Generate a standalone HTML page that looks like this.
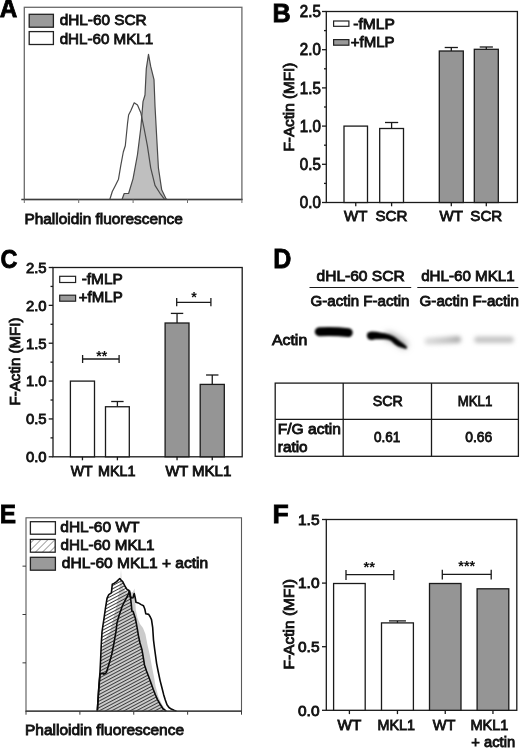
<!DOCTYPE html>
<html><head><meta charset="utf-8"><style>
html,body{margin:0;padding:0;background:#fff;}
svg{display:block;font-family:"Liberation Sans", Arial, sans-serif;}
</style></head><body>
<svg width="520" height="749" viewBox="0 0 520 749">
<rect x="0" y="0" width="520" height="749" fill="#fff"/>
<text x="-0.21" y="17.3" font-size="26.02" text-anchor="start" font-weight="bold" fill="#000" stroke="#000" stroke-width="0.8" textLength="17.55" lengthAdjust="spacingAndGlyphs" >A</text>
<polygon points="122,199.5 124.2,193.5 128.6,193.5 133,178.8 137.5,154.5 140.8,128 143,101.7 145,95 146.3,68.6 148.5,54.3 150.7,66.4 154,79.7 155,106 156.8,139 158.4,167.8 161.7,189.8 166,198.7 167,199.5" fill="#bfbfbf" stroke="#4a4a4a" stroke-width="1.2" stroke-linejoin="round" />
<polyline points="109.8,199.5 112.3,191.5 115.4,185.4 118.5,179.2 120.8,165.4 123.3,152 125.3,145.8 127.5,123.7 128.6,115 130.9,110.5 134.2,102.8 137.5,105 140.8,112.7 144,128 147.4,145.8 150.7,167.8 155,185.4 160.6,194.2 164,198.7 165,199.5" fill="none" stroke="#4a4a4a" stroke-width="1.2" stroke-linejoin="round" />
<rect x="24.3" y="7.3" width="217.6" height="192.2" fill="none" stroke="#6a6a6a" stroke-width="1.3" />
<line x1="21.3" y1="199.5" x2="242.5" y2="199.5" stroke="#3c3c3c" stroke-width="1.4"/>
<line x1="24.3" y1="199.5" x2="24.3" y2="203.0" stroke="#6e6e6e" stroke-width="1.0"/>
<line x1="78.7" y1="199.5" x2="78.7" y2="203.0" stroke="#6e6e6e" stroke-width="1.0"/>
<line x1="133.1" y1="199.5" x2="133.1" y2="203.0" stroke="#6e6e6e" stroke-width="1.0"/>
<line x1="187.5" y1="199.5" x2="187.5" y2="203.0" stroke="#6e6e6e" stroke-width="1.0"/>
<line x1="241.9" y1="199.5" x2="241.9" y2="203.0" stroke="#6e6e6e" stroke-width="1.0"/>
<rect x="29.2" y="14.3" width="24.2" height="12.899999999999999" fill="#9a9a9a" stroke="#222" stroke-width="1.3" />
<rect x="29.2" y="31.6" width="24.2" height="12.899999999999999" fill="#fff" stroke="#222" stroke-width="1.3" />
<text x="59.7" y="24.6" font-size="14.8" text-anchor="start" font-weight="normal" fill="#111" stroke="#111" stroke-width="0.85" textLength="87" lengthAdjust="spacingAndGlyphs" >dHL-60 SCR</text>
<text x="59.7" y="43.8" font-size="14.8" text-anchor="start" font-weight="normal" fill="#111" stroke="#111" stroke-width="0.85" textLength="93.5" lengthAdjust="spacingAndGlyphs" >dHL-60 MKL1</text>
<text x="24.4" y="223.8" font-size="14.8" text-anchor="start" font-weight="normal" fill="#111" stroke="#111" stroke-width="0.85" textLength="158.5" lengthAdjust="spacingAndGlyphs" >Phalloidin fluorescence</text>
<text x="272.51" y="21.5" font-size="25.58" text-anchor="start" font-weight="bold" fill="#000" stroke="#000" stroke-width="0.8" textLength="18.24" lengthAdjust="spacingAndGlyphs" >B</text>
<rect x="326.3" y="11.5" width="191.09999999999997" height="191.0" fill="none" stroke="#1a1a1a" stroke-width="1.3" />
<line x1="322.0" y1="202.5" x2="326.3" y2="202.5" stroke="#1a1a1a" stroke-width="1.3"/>
<text x="320.8" y="208.1" font-size="16" text-anchor="end" font-weight="normal" fill="#111" stroke="#111" stroke-width="0.85" textLength="21" lengthAdjust="spacingAndGlyphs" >0.0</text>
<line x1="322.0" y1="164.3" x2="326.3" y2="164.3" stroke="#1a1a1a" stroke-width="1.3"/>
<text x="320.8" y="169.9" font-size="16" text-anchor="end" font-weight="normal" fill="#111" stroke="#111" stroke-width="0.85" textLength="21" lengthAdjust="spacingAndGlyphs" >0.5</text>
<line x1="322.0" y1="126.1" x2="326.3" y2="126.1" stroke="#1a1a1a" stroke-width="1.3"/>
<text x="320.8" y="131.7" font-size="16" text-anchor="end" font-weight="normal" fill="#111" stroke="#111" stroke-width="0.85" textLength="21" lengthAdjust="spacingAndGlyphs" >1.0</text>
<line x1="322.0" y1="87.89999999999999" x2="326.3" y2="87.89999999999999" stroke="#1a1a1a" stroke-width="1.3"/>
<text x="320.8" y="93.49999999999999" font-size="16" text-anchor="end" font-weight="normal" fill="#111" stroke="#111" stroke-width="0.85" textLength="21" lengthAdjust="spacingAndGlyphs" >1.5</text>
<line x1="322.0" y1="49.69999999999999" x2="326.3" y2="49.69999999999999" stroke="#1a1a1a" stroke-width="1.3"/>
<text x="320.8" y="55.29999999999999" font-size="16" text-anchor="end" font-weight="normal" fill="#111" stroke="#111" stroke-width="0.85" textLength="21" lengthAdjust="spacingAndGlyphs" >2.0</text>
<line x1="322.0" y1="11.5" x2="326.3" y2="11.5" stroke="#1a1a1a" stroke-width="1.3"/>
<text x="320.8" y="17.1" font-size="16" text-anchor="end" font-weight="normal" fill="#111" stroke="#111" stroke-width="0.85" textLength="21" lengthAdjust="spacingAndGlyphs" >2.5</text>
<line x1="324.0" y1="183.4" x2="326.3" y2="183.4" stroke="#1a1a1a" stroke-width="1.3"/>
<line x1="324.0" y1="145.2" x2="326.3" y2="145.2" stroke="#1a1a1a" stroke-width="1.3"/>
<line x1="324.0" y1="107.0" x2="326.3" y2="107.0" stroke="#1a1a1a" stroke-width="1.3"/>
<line x1="324.0" y1="68.79999999999998" x2="326.3" y2="68.79999999999998" stroke="#1a1a1a" stroke-width="1.3"/>
<line x1="324.0" y1="30.599999999999994" x2="326.3" y2="30.599999999999994" stroke="#1a1a1a" stroke-width="1.3"/>
<text transform="translate(294.4,107.1) rotate(-90)" font-size="14.8" text-anchor="middle" fill="#111" stroke="#111" stroke-width="0.85" textLength="88.8" lengthAdjust="spacingAndGlyphs">F-Actin (MFI)</text>
<rect x="344" y="126.1" width="23.5" height="76.4" fill="#fff" stroke="#1a1a1a" stroke-width="1.3" />
<line x1="355.75" y1="202.5" x2="355.75" y2="206.3" stroke="#1a1a1a" stroke-width="1.3"/>
<line x1="391.6" y1="122.5" x2="391.6" y2="128.5" stroke="#1a1a1a" stroke-width="1.3"/>
<line x1="385.0" y1="122.5" x2="398.20000000000005" y2="122.5" stroke="#1a1a1a" stroke-width="1.3"/>
<rect x="379.7" y="128.5" width="23.80000000000001" height="74.0" fill="#fff" stroke="#1a1a1a" stroke-width="1.3" />
<line x1="391.6" y1="202.5" x2="391.6" y2="206.3" stroke="#1a1a1a" stroke-width="1.3"/>
<line x1="451.3" y1="47.5" x2="451.3" y2="51" stroke="#1a1a1a" stroke-width="1.3"/>
<line x1="444.7" y1="47.5" x2="457.90000000000003" y2="47.5" stroke="#1a1a1a" stroke-width="1.3"/>
<rect x="439.3" y="51" width="24.0" height="151.5" fill="#959595" stroke="#1a1a1a" stroke-width="1.3" />
<line x1="451.3" y1="202.5" x2="451.3" y2="206.3" stroke="#1a1a1a" stroke-width="1.3"/>
<line x1="486.3" y1="47" x2="486.3" y2="49.3" stroke="#1a1a1a" stroke-width="1.3"/>
<line x1="479.7" y1="47" x2="492.90000000000003" y2="47" stroke="#1a1a1a" stroke-width="1.3"/>
<rect x="474.3" y="49.3" width="24.0" height="153.2" fill="#959595" stroke="#1a1a1a" stroke-width="1.3" />
<line x1="486.3" y1="202.5" x2="486.3" y2="206.3" stroke="#1a1a1a" stroke-width="1.3"/>
<text x="355.75" y="220.7" font-size="15.5" text-anchor="middle" font-weight="normal" fill="#111" stroke="#111" stroke-width="0.85" textLength="23.4" lengthAdjust="spacingAndGlyphs" >WT</text>
<text x="391.5" y="220.7" font-size="15.5" text-anchor="middle" font-weight="normal" fill="#111" stroke="#111" stroke-width="0.85" textLength="32" lengthAdjust="spacingAndGlyphs" >SCR</text>
<text x="451.3" y="220.7" font-size="15.5" text-anchor="middle" font-weight="normal" fill="#111" stroke="#111" stroke-width="0.85" textLength="23.4" lengthAdjust="spacingAndGlyphs" >WT</text>
<text x="486.3" y="220.7" font-size="15.5" text-anchor="middle" font-weight="normal" fill="#111" stroke="#111" stroke-width="0.85" textLength="32" lengthAdjust="spacingAndGlyphs" >SCR</text>
<rect x="333.6" y="21.0" width="15.299999999999955" height="5.300000000000001" fill="#fff" stroke="#222" stroke-width="1.2" />
<rect x="333.6" y="39.6" width="15.299999999999955" height="5.600000000000001" fill="#9a9a9a" stroke="#222" stroke-width="1.2" />
<text x="353.3" y="28.7" font-size="14.8" text-anchor="start" font-weight="normal" fill="#111" stroke="#111" stroke-width="0.85" textLength="41.5" lengthAdjust="spacingAndGlyphs" >-fMLP</text>
<text x="350.8" y="46.5" font-size="14.8" text-anchor="start" font-weight="normal" fill="#111" stroke="#111" stroke-width="0.85" textLength="43.8" lengthAdjust="spacingAndGlyphs" >+fMLP</text>
<text x="0.59" y="267.65" font-size="25.85" text-anchor="start" font-weight="bold" fill="#000" stroke="#000" stroke-width="0.8" textLength="16.95" lengthAdjust="spacingAndGlyphs" >C</text>
<rect x="53" y="267.5" width="189.2" height="189.3" fill="none" stroke="#1a1a1a" stroke-width="1.3" />
<line x1="48.7" y1="456.8" x2="53" y2="456.8" stroke="#1a1a1a" stroke-width="1.3"/>
<text x="46.6" y="462.1" font-size="14.8" text-anchor="end" font-weight="normal" fill="#111" stroke="#111" stroke-width="0.85" textLength="20.7" lengthAdjust="spacingAndGlyphs" >0.0</text>
<line x1="48.7" y1="418.94" x2="53" y2="418.94" stroke="#1a1a1a" stroke-width="1.3"/>
<text x="46.6" y="424.24" font-size="14.8" text-anchor="end" font-weight="normal" fill="#111" stroke="#111" stroke-width="0.85" textLength="20.7" lengthAdjust="spacingAndGlyphs" >0.5</text>
<line x1="48.7" y1="381.08000000000004" x2="53" y2="381.08000000000004" stroke="#1a1a1a" stroke-width="1.3"/>
<text x="46.6" y="386.38000000000005" font-size="14.8" text-anchor="end" font-weight="normal" fill="#111" stroke="#111" stroke-width="0.85" textLength="20.7" lengthAdjust="spacingAndGlyphs" >1.0</text>
<line x1="48.7" y1="343.22" x2="53" y2="343.22" stroke="#1a1a1a" stroke-width="1.3"/>
<text x="46.6" y="348.52000000000004" font-size="14.8" text-anchor="end" font-weight="normal" fill="#111" stroke="#111" stroke-width="0.85" textLength="20.7" lengthAdjust="spacingAndGlyphs" >1.5</text>
<line x1="48.7" y1="305.36" x2="53" y2="305.36" stroke="#1a1a1a" stroke-width="1.3"/>
<text x="46.6" y="310.66" font-size="14.8" text-anchor="end" font-weight="normal" fill="#111" stroke="#111" stroke-width="0.85" textLength="20.7" lengthAdjust="spacingAndGlyphs" >2.0</text>
<line x1="48.7" y1="267.5" x2="53" y2="267.5" stroke="#1a1a1a" stroke-width="1.3"/>
<text x="46.6" y="272.8" font-size="14.8" text-anchor="end" font-weight="normal" fill="#111" stroke="#111" stroke-width="0.85" textLength="20.7" lengthAdjust="spacingAndGlyphs" >2.5</text>
<line x1="50.5" y1="437.87" x2="53" y2="437.87" stroke="#1a1a1a" stroke-width="1.3"/>
<line x1="50.5" y1="400.01" x2="53" y2="400.01" stroke="#1a1a1a" stroke-width="1.3"/>
<line x1="50.5" y1="362.15" x2="53" y2="362.15" stroke="#1a1a1a" stroke-width="1.3"/>
<line x1="50.5" y1="324.29" x2="53" y2="324.29" stroke="#1a1a1a" stroke-width="1.3"/>
<line x1="50.5" y1="286.43" x2="53" y2="286.43" stroke="#1a1a1a" stroke-width="1.3"/>
<text transform="translate(20.4,361.5) rotate(-90)" font-size="14.8" text-anchor="middle" fill="#111" stroke="#111" stroke-width="0.85" textLength="87.8" lengthAdjust="spacingAndGlyphs">F-Actin (MFI)</text>
<rect x="70.4" y="381.1" width="24.099999999999994" height="75.69999999999999" fill="#fff" stroke="#1a1a1a" stroke-width="1.3" />
<line x1="82.45" y1="456.8" x2="82.45" y2="460.3" stroke="#1a1a1a" stroke-width="1.3"/>
<line x1="117.4" y1="401.5" x2="117.4" y2="406.75" stroke="#1a1a1a" stroke-width="1.3"/>
<line x1="111.2" y1="401.5" x2="123.60000000000001" y2="401.5" stroke="#1a1a1a" stroke-width="1.3"/>
<rect x="105.5" y="406.75" width="23.80000000000001" height="50.05000000000001" fill="#fff" stroke="#1a1a1a" stroke-width="1.3" />
<line x1="117.4" y1="456.8" x2="117.4" y2="460.3" stroke="#1a1a1a" stroke-width="1.3"/>
<line x1="177.05" y1="313.4" x2="177.05" y2="323" stroke="#1a1a1a" stroke-width="1.3"/>
<line x1="170.85000000000002" y1="313.4" x2="183.25" y2="313.4" stroke="#1a1a1a" stroke-width="1.3"/>
<rect x="165.1" y="323" width="23.900000000000006" height="133.8" fill="#959595" stroke="#1a1a1a" stroke-width="1.3" />
<line x1="177.05" y1="456.8" x2="177.05" y2="460.3" stroke="#1a1a1a" stroke-width="1.3"/>
<line x1="212.25" y1="375" x2="212.25" y2="384.4" stroke="#1a1a1a" stroke-width="1.3"/>
<line x1="206.05" y1="375" x2="218.45" y2="375" stroke="#1a1a1a" stroke-width="1.3"/>
<rect x="200.2" y="384.4" width="24.100000000000023" height="72.40000000000003" fill="#959595" stroke="#1a1a1a" stroke-width="1.3" />
<line x1="212.25" y1="456.8" x2="212.25" y2="460.3" stroke="#1a1a1a" stroke-width="1.3"/>
<line x1="82.6" y1="359" x2="119.1" y2="359" stroke="#1a1a1a" stroke-width="1.3"/>
<line x1="82.6" y1="355" x2="82.6" y2="363" stroke="#1a1a1a" stroke-width="1.3"/>
<line x1="119.1" y1="355" x2="119.1" y2="363" stroke="#1a1a1a" stroke-width="1.3"/>
<text x="101.7" y="360.5" font-size="14" text-anchor="middle" font-weight="bold" fill="#111" >**</text>
<line x1="176.7" y1="302.3" x2="210.9" y2="302.3" stroke="#1a1a1a" stroke-width="1.3"/>
<line x1="176.7" y1="297.9" x2="176.7" y2="306.2" stroke="#1a1a1a" stroke-width="1.3"/>
<line x1="210.9" y1="297.9" x2="210.9" y2="306.2" stroke="#1a1a1a" stroke-width="1.3"/>
<text x="194.1" y="302.2" font-size="14.2" text-anchor="middle" font-weight="bold" fill="#111" >*</text>
<text x="70.7" y="475.6" font-size="14.5" text-anchor="start" font-weight="normal" fill="#111" stroke="#111" stroke-width="0.85" textLength="21.8" lengthAdjust="spacingAndGlyphs" >WT</text>
<text x="98" y="475.6" font-size="14.5" text-anchor="start" font-weight="normal" fill="#111" stroke="#111" stroke-width="0.85" textLength="37.6" lengthAdjust="spacingAndGlyphs" >MKL1</text>
<text x="165.4" y="475.6" font-size="14.5" text-anchor="start" font-weight="normal" fill="#111" stroke="#111" stroke-width="0.85" textLength="22.8" lengthAdjust="spacingAndGlyphs" >WT</text>
<text x="192" y="475.6" font-size="14.5" text-anchor="start" font-weight="normal" fill="#111" stroke="#111" stroke-width="0.85" textLength="39.4" lengthAdjust="spacingAndGlyphs" >MKL1</text>
<rect x="59.7" y="276.3" width="15.899999999999991" height="6.199999999999989" fill="#fff" stroke="#222" stroke-width="1.2" />
<rect x="59.7" y="295.2" width="15.899999999999991" height="6.0" fill="#9a9a9a" stroke="#222" stroke-width="1.2" />
<text x="81.7" y="284" font-size="14.8" text-anchor="start" font-weight="normal" fill="#111" stroke="#111" stroke-width="0.85" textLength="41" lengthAdjust="spacingAndGlyphs" >-fMLP</text>
<text x="78.8" y="302" font-size="14.8" text-anchor="start" font-weight="normal" fill="#111" stroke="#111" stroke-width="0.85" textLength="43.9" lengthAdjust="spacingAndGlyphs" >+fMLP</text>
<text x="273.32" y="267.7" font-size="26.89" text-anchor="start" font-weight="bold" fill="#000" stroke="#000" stroke-width="0.8" textLength="18.13" lengthAdjust="spacingAndGlyphs" >D</text>
<text x="316.5" y="281.2" font-size="14.8" text-anchor="start" font-weight="normal" fill="#111" stroke="#111" stroke-width="0.85" textLength="88.2" lengthAdjust="spacingAndGlyphs" >dHL-60 SCR</text>
<line x1="309.5" y1="287.4" x2="411.2" y2="287.4" stroke="#1a1a1a" stroke-width="1.05"/>
<text x="421.2" y="281.2" font-size="14.8" text-anchor="start" font-weight="normal" fill="#111" stroke="#111" stroke-width="0.85" textLength="93.5" lengthAdjust="spacingAndGlyphs" >dHL-60 MKL1</text>
<line x1="417.3" y1="287.4" x2="518.3" y2="287.4" stroke="#1a1a1a" stroke-width="1.05"/>
<text x="310.6" y="305.5" font-size="14.8" text-anchor="start" font-weight="normal" fill="#111" stroke="#111" stroke-width="0.85" textLength="98.8" lengthAdjust="spacingAndGlyphs" >G-actin F-actin</text>
<text x="419.6" y="305.5" font-size="14.8" text-anchor="start" font-weight="normal" fill="#111" stroke="#111" stroke-width="0.85" textLength="99.3" lengthAdjust="spacingAndGlyphs" >G-actin F-actin</text>
<text x="272.0" y="345.1" font-size="14.5" text-anchor="start" font-weight="normal" fill="#111" stroke="#111" stroke-width="0.85" textLength="35.2" lengthAdjust="spacingAndGlyphs" >Actin</text>
<defs><filter id="bl1" filterUnits="userSpaceOnUse" x="300" y="310" width="220" height="60"><feGaussianBlur stdDeviation="0.9"/></filter><filter id="bl2" filterUnits="userSpaceOnUse" x="300" y="310" width="220" height="60"><feGaussianBlur stdDeviation="2.2"/></filter><filter id="bl3" filterUnits="userSpaceOnUse" x="300" y="310" width="220" height="60"><feGaussianBlur stdDeviation="3"/></filter><linearGradient id="g3" gradientUnits="userSpaceOnUse" x1="425" y1="0" x2="461" y2="0"><stop offset="0" stop-color="#dedede"/><stop offset="0.6" stop-color="#c4c4c4"/><stop offset="1" stop-color="#a8a8a8"/></linearGradient></defs>
<path d="M319.3,331.7 C328,331.2 340,331.6 348.2,332.6" stroke="#000" stroke-width="9.0" stroke-linecap="round" fill="none" filter="url(#bl1)"/>
<path d="M388,336 C394,337 399,341 404,345" stroke="#a0a0a0" stroke-width="7" stroke-linecap="round" fill="none" filter="url(#bl3)"/>
<polygon points="368.25,333.2 371.6,332.2 376.4,332.5 381.2,333.5 386,334.4 389.9,335.6 392.8,337 395.7,339 399.5,341.8 403.3,344.7 406.2,347.1 405.8,348.1 402.4,347.1 398.5,345.7 394.7,343.3 391.8,340.4 388.9,339 385.1,338.5 380.3,338.3 375.5,338.5 371.6,339.2 368.7,338.5 367.6,336" fill="#000" stroke="#000" stroke-width="1.6" stroke-linejoin="round" filter="url(#bl1)"/>
<path d="M428,341.3 C438,340.8 448,340.2 457.5,339.5" stroke="url(#g3)" stroke-width="7" stroke-linecap="round" fill="none" filter="url(#bl2)"/>
<path d="M477.5,339.8 L510.5,339.8" stroke="#c4c4c4" stroke-width="6.5" stroke-linecap="round" fill="none" filter="url(#bl2)"/>
<rect x="275.2" y="383.1" width="243.2" height="73.19999999999999" fill="none" stroke="#1a1a1a" stroke-width="1.3" />
<line x1="275.2" y1="419.4" x2="518.4" y2="419.4" stroke="#1a1a1a" stroke-width="1.3"/>
<line x1="343.2" y1="383.1" x2="343.2" y2="456.3" stroke="#1a1a1a" stroke-width="1.3"/>
<line x1="431.5" y1="383.1" x2="431.5" y2="456.3" stroke="#1a1a1a" stroke-width="1.3"/>
<text x="372.8" y="406" font-size="14.8" text-anchor="start" font-weight="normal" fill="#111" stroke="#111" stroke-width="0.85" textLength="30" lengthAdjust="spacingAndGlyphs" >SCR</text>
<text x="457.7" y="406" font-size="14.8" text-anchor="start" font-weight="normal" fill="#111" stroke="#111" stroke-width="0.85" textLength="34.6" lengthAdjust="spacingAndGlyphs" >MKL1</text>
<text x="277.8" y="433.7" font-size="14.8" text-anchor="start" font-weight="normal" fill="#111" stroke="#111" stroke-width="0.85" textLength="63" lengthAdjust="spacingAndGlyphs" >F/G actin</text>
<text x="277.8" y="451.8" font-size="14.8" text-anchor="start" font-weight="normal" fill="#111" stroke="#111" stroke-width="0.85" textLength="29.8" lengthAdjust="spacingAndGlyphs" >ratio</text>
<text x="373.9" y="442.4" font-size="14.8" text-anchor="start" font-weight="normal" fill="#111" stroke="#111" stroke-width="0.85" textLength="26.3" lengthAdjust="spacingAndGlyphs" >0.61</text>
<text x="465.3" y="442.4" font-size="14.8" text-anchor="start" font-weight="normal" fill="#111" stroke="#111" stroke-width="0.85" textLength="27" lengthAdjust="spacingAndGlyphs" >0.66</text>
<text x="-0.33" y="522.7" font-size="26.31" text-anchor="start" font-weight="bold" fill="#000" stroke="#000" stroke-width="0.8" textLength="16.29" lengthAdjust="spacingAndGlyphs" >E</text>
<defs><pattern id="hatch" patternUnits="userSpaceOnUse" width="6" height="2.9" patternTransform="rotate(-28)"><line x1="0" y1="1.45" x2="6" y2="1.45" stroke="#3c3c3c" stroke-width="1.0"/></pattern><pattern id="hatchL" patternUnits="userSpaceOnUse" width="5" height="5" patternTransform="rotate(45)"><rect width="5" height="5" fill="#fff"/><line x1="0" y1="0" x2="0" y2="5" stroke="#444" stroke-width="1.0"/></pattern></defs>
<polygon points="97.5,711.2 99.5,680 101,655 103,645 106,638 110,632 113,620 116,608 118.5,595 120.3,582 121,569 121.7,582 124,590 127,592 130,593 133,592 134.5,588.6 135.2,600 135.8,610 137.5,618 140,624 143,628 145.4,634 147.5,645 149.7,654.6 152,667 154,677 155.5,686 158.5,697 162,704.5 165.5,709.5 167.5,711.2" fill="#cbcbcb" stroke="none" stroke-width="0" stroke-linejoin="round" />
<polygon points="97.3,711.2 98.7,689 100,672 100.6,660 101.2,646 102,632 103,625 103.7,620.6 105.4,608.5 107.1,598 108.8,594.6 111.4,592.9 112.3,584.2 114,583.4 116.6,581.6 119.2,579 119.8,578.5 121,580 122.7,581.6 125.3,586.8 127,589.4 128.7,590.3 129.6,593 130.8,600 131.3,604.6 131.9,611 133.1,611.5 135.4,618.5 137.1,627.7 138.5,636 140,643 141.9,649.4 143.2,657 144.5,665 146.5,671 148.8,677 151,683 153.2,689.2 155.3,694.5 157.5,699.6 160,704 162.7,708.3 166.2,711.2" fill="url(#hatch)" stroke="none" stroke-width="0" stroke-linejoin="round" />
<polyline points="97.3,711.2 98.7,690 100,674.2 102,673.2 104,674.2 106.4,672.6 108.6,665.2 110.2,660 111.7,654.6 113.8,644 116,631.3 117,622.9 119.1,615.5 122.3,606 125.5,599.6 127.5,596 128.7,593.3 129.6,591 130.5,596 131.5,598 133,597.7 134.2,593.5 135.2,597.7 136,602.3 138.3,602.9 141.2,604.6 143.5,605.8 144.8,609 145.8,613.8 148.7,614.4 150.3,617 151.5,619.6 152.7,627.7 153.5,640 154.5,648 156.6,663.3 158.3,672 160.1,680.6 162,688 163.6,694.4 165.3,700 167,704.8 169,707.5 171.3,709.1 174,710.3 176.5,711.2" fill="none" stroke="#0a0a0a" stroke-width="1.6" stroke-linejoin="round" />
<polyline points="97.3,711.2 98.7,689 100,672 100.6,660 101.2,646 102,632 103,625 103.7,620.6 105.4,608.5 107.1,598 108.8,594.6 111.4,592.9 112.3,584.2 114,583.4 116.6,581.6 119.2,579 119.8,578.5 121,580 122.7,581.6 125.3,586.8 127,589.4 128.7,590.3 129.6,593 130.8,600 131.3,604.6 131.9,611 133.1,611.5 135.4,618.5 137.1,627.7 138.5,636 140,643 141.9,649.4 143.2,657 144.5,665 146.5,671 148.8,677 151,683 153.2,689.2 155.3,694.5 157.5,699.6 160,704 162.7,708.3 166.2,711.2" fill="none" stroke="#0a0a0a" stroke-width="1.6" stroke-linejoin="round" />
<rect x="26.0" y="517.8" width="215.5" height="193.4000000000001" fill="none" stroke="#5a5a5a" stroke-width="1.1" />
<line x1="25.5" y1="711.2" x2="242.0" y2="711.2" stroke="#333" stroke-width="1.3"/>
<line x1="26.0" y1="711.2" x2="26.0" y2="714.7" stroke="#3a3a3a" stroke-width="1.0"/>
<line x1="79.875" y1="711.2" x2="79.875" y2="714.7" stroke="#3a3a3a" stroke-width="1.0"/>
<line x1="133.75" y1="711.2" x2="133.75" y2="714.7" stroke="#3a3a3a" stroke-width="1.0"/>
<line x1="187.625" y1="711.2" x2="187.625" y2="714.7" stroke="#3a3a3a" stroke-width="1.0"/>
<line x1="241.5" y1="711.2" x2="241.5" y2="714.7" stroke="#3a3a3a" stroke-width="1.0"/>
<line x1="22.5" y1="662.85" x2="26.0" y2="662.85" stroke="#3a3a3a" stroke-width="1.0"/>
<line x1="22.5" y1="614.5" x2="26.0" y2="614.5" stroke="#3a3a3a" stroke-width="1.0"/>
<line x1="22.5" y1="566.15" x2="26.0" y2="566.15" stroke="#3a3a3a" stroke-width="1.0"/>
<rect x="30.4" y="521.7" width="25.0" height="12.5" fill="#fff" stroke="#222" stroke-width="1.3" />
<rect x="30.4" y="539.4" width="24.800000000000004" height="12.800000000000068" fill="url(#hatchL)" stroke="#222" stroke-width="1.3" />
<rect x="30.4" y="557.3" width="25.0" height="12.900000000000091" fill="#9a9a9a" stroke="#222" stroke-width="1.3" />
<text x="60.3" y="532.2" font-size="14.8" text-anchor="start" font-weight="normal" fill="#111" stroke="#111" stroke-width="0.85" textLength="79.2" lengthAdjust="spacingAndGlyphs" >dHL-60 WT</text>
<text x="60.5" y="549.6" font-size="14.8" text-anchor="start" font-weight="normal" fill="#111" stroke="#111" stroke-width="0.85" textLength="94" lengthAdjust="spacingAndGlyphs" >dHL-60 MKL1</text>
<text x="61.8" y="568" font-size="14.8" text-anchor="start" font-weight="normal" fill="#111" stroke="#111" stroke-width="0.85" textLength="146.3" lengthAdjust="spacingAndGlyphs" >dHL-60 MKL1 + actin</text>
<text x="25" y="734.5" font-size="14.8" text-anchor="start" font-weight="normal" fill="#111" stroke="#111" stroke-width="0.85" textLength="159" lengthAdjust="spacingAndGlyphs" >Phalloidin fluorescence</text>
<text x="272.42" y="522.7" font-size="26.31" text-anchor="start" font-weight="bold" fill="#000" stroke="#000" stroke-width="0.8" textLength="16.25" lengthAdjust="spacingAndGlyphs" >F</text>
<rect x="326.3" y="519.5" width="190.49999999999994" height="190.79999999999995" fill="none" stroke="#1a1a1a" stroke-width="1.3" />
<line x1="322.0" y1="710.3" x2="326.3" y2="710.3" stroke="#1a1a1a" stroke-width="1.3"/>
<text x="319.5" y="715.5999999999999" font-size="14.8" text-anchor="end" font-weight="normal" fill="#111" stroke="#111" stroke-width="0.85" textLength="21.5" lengthAdjust="spacingAndGlyphs" >0.0</text>
<line x1="322.0" y1="646.6999999999999" x2="326.3" y2="646.6999999999999" stroke="#1a1a1a" stroke-width="1.3"/>
<text x="319.5" y="651.9999999999999" font-size="14.8" text-anchor="end" font-weight="normal" fill="#111" stroke="#111" stroke-width="0.85" textLength="21.5" lengthAdjust="spacingAndGlyphs" >0.5</text>
<line x1="322.0" y1="583.1" x2="326.3" y2="583.1" stroke="#1a1a1a" stroke-width="1.3"/>
<text x="319.5" y="588.4" font-size="14.8" text-anchor="end" font-weight="normal" fill="#111" stroke="#111" stroke-width="0.85" textLength="21.5" lengthAdjust="spacingAndGlyphs" >1.0</text>
<line x1="322.0" y1="519.5" x2="326.3" y2="519.5" stroke="#1a1a1a" stroke-width="1.3"/>
<text x="319.5" y="524.8" font-size="14.8" text-anchor="end" font-weight="normal" fill="#111" stroke="#111" stroke-width="0.85" textLength="21.5" lengthAdjust="spacingAndGlyphs" >1.5</text>
<text transform="translate(294.2,624.3) rotate(-90)" font-size="14.8" text-anchor="middle" fill="#111" stroke="#111" stroke-width="0.85" textLength="90.5" lengthAdjust="spacingAndGlyphs">F-Actin (MFI)</text>
<rect x="333.6" y="583.5" width="31.599999999999966" height="126.79999999999995" fill="#fff" stroke="#1a1a1a" stroke-width="1.3" />
<line x1="349.4" y1="710.3" x2="349.4" y2="714.0999999999999" stroke="#1a1a1a" stroke-width="1.3"/>
<line x1="397.45" y1="620.9" x2="397.45" y2="622.9" stroke="#1a1a1a" stroke-width="1.3"/>
<line x1="388.95" y1="620.9" x2="405.95" y2="620.9" stroke="#1a1a1a" stroke-width="1.3"/>
<rect x="381.5" y="622.9" width="31.899999999999977" height="87.39999999999998" fill="#fff" stroke="#1a1a1a" stroke-width="1.3" />
<line x1="397.45" y1="710.3" x2="397.45" y2="714.0999999999999" stroke="#1a1a1a" stroke-width="1.3"/>
<rect x="429.5" y="583.5" width="31.5" height="126.79999999999995" fill="#959595" stroke="#1a1a1a" stroke-width="1.3" />
<line x1="445.25" y1="710.3" x2="445.25" y2="714.0999999999999" stroke="#1a1a1a" stroke-width="1.3"/>
<rect x="477.1" y="588.8" width="31.69999999999999" height="121.5" fill="#959595" stroke="#1a1a1a" stroke-width="1.3" />
<line x1="492.95000000000005" y1="710.3" x2="492.95000000000005" y2="714.0999999999999" stroke="#1a1a1a" stroke-width="1.3"/>
<line x1="346" y1="574.6" x2="393.8" y2="574.6" stroke="#1a1a1a" stroke-width="1.3"/>
<line x1="346" y1="570" x2="346" y2="580" stroke="#1a1a1a" stroke-width="1.3"/>
<line x1="393.8" y1="570" x2="393.8" y2="580" stroke="#1a1a1a" stroke-width="1.3"/>
<text x="369.3" y="572.2" font-size="14.8" text-anchor="middle" font-weight="bold" fill="#111" >**</text>
<line x1="442.3" y1="574.4" x2="491.2" y2="574.4" stroke="#1a1a1a" stroke-width="1.3"/>
<line x1="442.3" y1="569.8" x2="442.3" y2="579.6" stroke="#1a1a1a" stroke-width="1.3"/>
<line x1="491.2" y1="569.8" x2="491.2" y2="579.6" stroke="#1a1a1a" stroke-width="1.3"/>
<text x="466.7" y="571.3" font-size="14.3" text-anchor="middle" font-weight="bold" fill="#111" >***</text>
<text x="349.4" y="729.5" font-size="14.8" text-anchor="middle" font-weight="normal" fill="#111" stroke="#111" stroke-width="0.85" textLength="23.7" lengthAdjust="spacingAndGlyphs" >WT</text>
<text x="396.3" y="729.5" font-size="14.8" text-anchor="middle" font-weight="normal" fill="#111" stroke="#111" stroke-width="0.85" textLength="37.5" lengthAdjust="spacingAndGlyphs" >MKL1</text>
<text x="444.2" y="729.5" font-size="14.8" text-anchor="middle" font-weight="normal" fill="#111" stroke="#111" stroke-width="0.85" textLength="22.7" lengthAdjust="spacingAndGlyphs" >WT</text>
<text x="489.4" y="729.5" font-size="14.8" text-anchor="middle" font-weight="normal" fill="#111" stroke="#111" stroke-width="0.85" textLength="38" lengthAdjust="spacingAndGlyphs" >MKL1</text>
<text x="493.2" y="746.6" font-size="14.8" text-anchor="middle" font-weight="normal" fill="#111" stroke="#111" stroke-width="0.85" textLength="43.8" lengthAdjust="spacingAndGlyphs" >+ actin</text>
</svg></body></html>
